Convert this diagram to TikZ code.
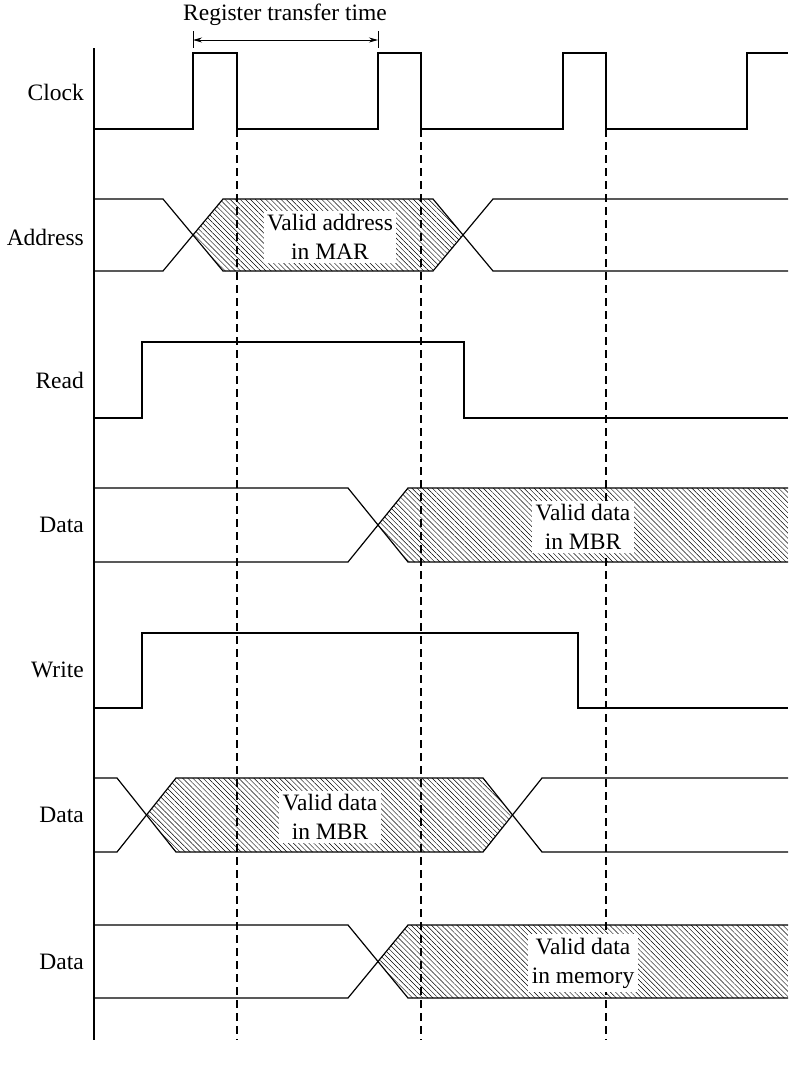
\documentclass[tikz,border=0pt]{standalone}
\usepackage{fontspec}
\setmainfont{Liberation Serif}
\usepackage{tikz}
\usetikzlibrary{arrows.meta,patterns.meta}

\begin{document}
\begin{tikzpicture}[
    x=1pt, y=-1pt,
    sig/.style={line width=1.2pt, line join=miter},
    hatch/.style={pattern={Lines[angle=-45, distance=3.6pt, line width=0.45pt]}},
    guide/.style={line width=1.1pt, dash pattern=on 8pt off 5pt},
    signame/.style={anchor=east, inner sep=0pt, font=\fontsize{23.5}{27}\selectfont},
    valid/.style={fill=white, inner sep=3.5pt, align=center, font=\fontsize{23.5}{29}\selectfont},
    arr/.style={{Stealth[length=9pt,width=5pt]}-{Stealth[length=9pt,width=5pt]}, line width=0.8pt}
]
\useasboundingbox (0,0) rectangle (788,1069);

% signal names
\foreach \y/\txt [count=\i] in {92/Clock, 237/Address, 380/Read, 525/Data, 670/Write, 815/Data, 962/Data}
    \node[signame] (name\i) at (84,\y) {\txt};

% time axis and clock edges
\draw[sig] (94,48) -- (94,1040);
\foreach \x in {237,421,606}
    \draw[guide] (\x,129) -- (\x,1040);

% clock
\draw[sig] (94,129) -- (193,129) -- (193,53) -- (237,53) -- (237,129) -- (378,129)
    -- (378,53) -- (421,53) -- (421,129) -- (563,129) -- (563,53) -- (606,53)
    -- (606,129) -- (747,129) -- (747,53) -- (788,53);

% register transfer time
\draw[line width=0.8pt] (193,31) -- (193,48) (378,31) -- (378,48);
\coordinate (rtl) at (193,40);
\coordinate (rtr) at (378,40);
\draw[arr] (rtl) -- (rtr);
\node[font=\fontsize{23.5}{27}\selectfont] (rtt) at (285,15) {Register transfer time};

% address
\fill[hatch] (193,235) -- (223,199) -- (433,199) -- (463,235) -- (433,271) -- (223,271) -- cycle;
\draw[sig] (94,199) -- (163,199) -- (223,271) -- (433,271) -- (493,199) -- (788,199);
\draw[sig] (94,271) -- (163,271) -- (223,199) -- (433,199) -- (493,271) -- (788,271);
\node[valid] (mar) at (330,237) {Valid address\\in MAR};

% read
\draw[sig] (94,418) -- (142,418) -- (142,342) -- (464,342) -- (464,418) -- (788,418);

% data (read)
\fill[hatch] (378,525) -- (408,488) -- (788,488) -- (788,562) -- (408,562) -- cycle;
\draw[sig] (94,488) -- (348,488) -- (408,562) -- (788,562);
\draw[sig] (94,562) -- (348,562) -- (408,488) -- (788,488);
\node[valid] (mbrr) at (583,527) {Valid data\\in MBR};

% write
\draw[sig] (94,708) -- (142,708) -- (142,633) -- (578,633) -- (578,708) -- (788,708);

% data (write)
\fill[hatch] (147,815) -- (176,778) -- (483,778) -- (512,815) -- (483,852) -- (176,852) -- cycle;
\draw[sig] (94,778) -- (117,778) -- (176,852) -- (483,852) -- (542,778) -- (788,778);
\draw[sig] (94,852) -- (117,852) -- (176,778) -- (483,778) -- (542,852) -- (788,852);
\node[valid] (mbrw) at (330,817) {Valid data\\in MBR};

% data (memory)
\fill[hatch] (378,961) -- (408,925) -- (788,925) -- (788,998) -- (408,998) -- cycle;
\draw[sig] (94,925) -- (348,925) -- (408,998) -- (788,998);
\draw[sig] (94,998) -- (348,998) -- (408,925) -- (788,925);
\node[valid] (mem) at (583,963) {Valid data\\in memory};
\end{tikzpicture}
\end{document}
